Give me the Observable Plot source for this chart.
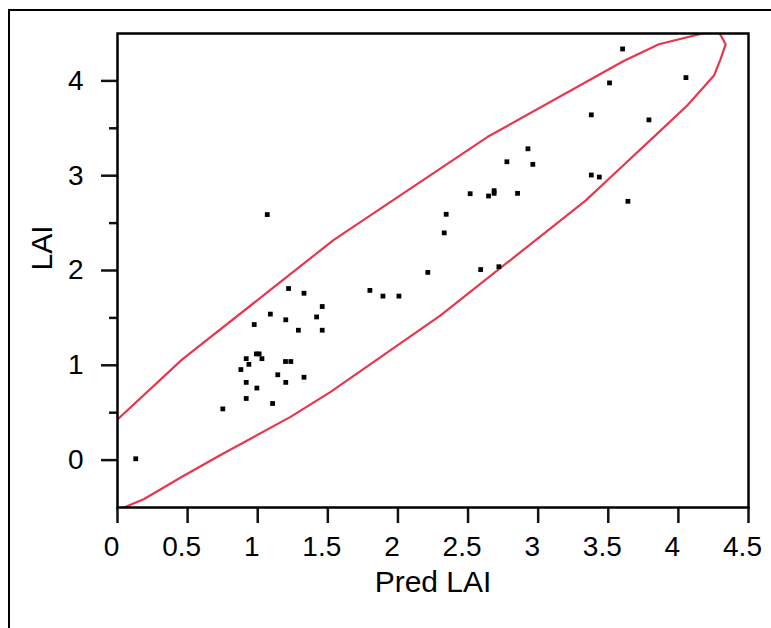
<!DOCTYPE html>
<html>
<head>
<meta charset="utf-8">
<script src="https://cdn.jsdelivr.net/npm/d3@7"></script>
<script src="https://cdn.jsdelivr.net/npm/@observablehq/plot@0.6"></script>
<style>
  html, body { margin: 0; padding: 0; background: #fff; overflow: hidden; }
  #wrap { position: relative; width: 771px; height: 628px; overflow: hidden; }
  #outer { position: absolute; left: 8px; top: 9px; width: 900px; height: 900px; border: 2px solid #000; box-sizing: border-box; }
  #chart { position: absolute; left: 0; top: 0; }
</style>
</head>
<body>
<div id="wrap"><div id="outer"></div><div id="chart"></div></div>
<script>
// Observed points: Pred LAI (x) vs LAI (y)
const predLAI = [1.068,1.22,1.33,1.46,1.09,1.20,1.42,0.975,1.29,1.46,
  0.99,1.01,1.03,0.918,0.937,0.88,1.198,1.236,1.143,1.33,0.918,1.20,0.994,0.918,1.106,0.751,0.13,
  2.927,2.777,2.962,2.515,2.686,2.686,2.646,2.853,2.344,2.33,2.213,2.59,2.72,1.80,1.893,2.007,
  3.602,3.509,4.054,3.379,3.79,3.379,3.436,3.64];
const lai = [2.59,1.81,1.76,1.62,1.54,1.48,1.51,1.43,1.37,1.37,
  1.12,1.12,1.07,1.07,1.01,0.955,1.04,1.04,0.90,0.874,0.82,0.82,0.76,0.65,0.597,0.54,0.014,
  3.284,3.147,3.12,2.81,2.842,2.814,2.786,2.814,2.593,2.397,1.98,2.01,2.04,1.79,1.73,1.73,
  4.337,3.979,4.035,3.642,3.589,3.007,2.986,2.73];

// Density ellipse outline
const ellX = [-0.05,0.19,0.46,0.735,1.234,1.52,2.304,3.338,3.564,3.861,4.063,4.254,4.30,4.337,4.28,3.861,3.61,2.64,1.54,1.115,0.46,0,-0.1];
const ellY = [-0.56,-0.41,-0.175,0.053,0.456,0.72,1.526,2.737,3.05,3.46,3.74,4.056,4.228,4.386,4.54,4.386,4.21,3.41,2.32,1.824,1.06,0.428,0.29];

const xTicks = [0,0.5,1,1.5,2,2.5,3,3.5,4,4.5];
const yTicks = [0,1,2,3,4];
const yMinor = [0.5,1.5,2.5,3.5];

const points = predLAI.map((x, i) => ({x, y: lai[i]}));
const ellipse = ellX.map((x, i) => ({x, y: ellY[i]}));

const font = "'Liberation Sans', Arial, Helvetica, sans-serif";
const W = 771, H = 628, mL = 117, mR = 23, mT = 33, mB = 121;
const frameH = H - mT - mB, frameW = W - mL - mR;

const chart = Plot.plot({
  width: W,
  height: H,
  marginLeft: mL,
  marginRight: mR,
  marginTop: mT,
  marginBottom: mB,
  style: {fontFamily: font, background: "transparent", color: "black"},
  x: {domain: [0, 4.5]},
  y: {domain: [-0.5, 4.5]},
  marks: [
    Plot.line(ellipse, {x: "x", y: "y", stroke: "#e8364c", strokeWidth: 2.2, clip: true, curve: "linear"}),
    Plot.dot(points, {x: "x", y: "y", symbol: "square", r: 2.7, fill: "black", stroke: "none"}),
    // tick marks drawn as rules just outside the frame
    Plot.ruleX(xTicks, {x: d => d, insetTop: frameH, insetBottom: -16, stroke: "#111", strokeWidth: 2.5}),
    Plot.ruleY(yTicks, {y: d => d, insetRight: frameW, insetLeft: -16, stroke: "#111", strokeWidth: 2.5}),
    Plot.ruleY(yMinor, {y: d => d, insetRight: frameW, insetLeft: -8, stroke: "#111", strokeWidth: 2.5}),
    Plot.frame({stroke: "black", strokeWidth: 2.5}),
    // tick labels
    Plot.axisX({ticks: xTicks, tickFormat: d => String(d), tickSize: 0, tickPadding: 29, dx: -6, fontSize: 28, label: null, fill: "black"}),
    Plot.axisY({ticks: yTicks, tickFormat: d => String(d), tickSize: 0, tickPadding: 34, fontSize: 28, label: null, fill: "black"}),
    // axis titles
    Plot.text(["LAI"], {frameAnchor: "left", dx: -75, rotate: -90, fontSize: 30, fill: "black", text: d => d}),
    Plot.text(["Pred LAI"], {frameAnchor: "bottom", dy: 84, fontSize: 30, fill: "black", text: d => d})
  ]
});
document.getElementById("chart").appendChild(chart);
</script>
</body>
</html>
